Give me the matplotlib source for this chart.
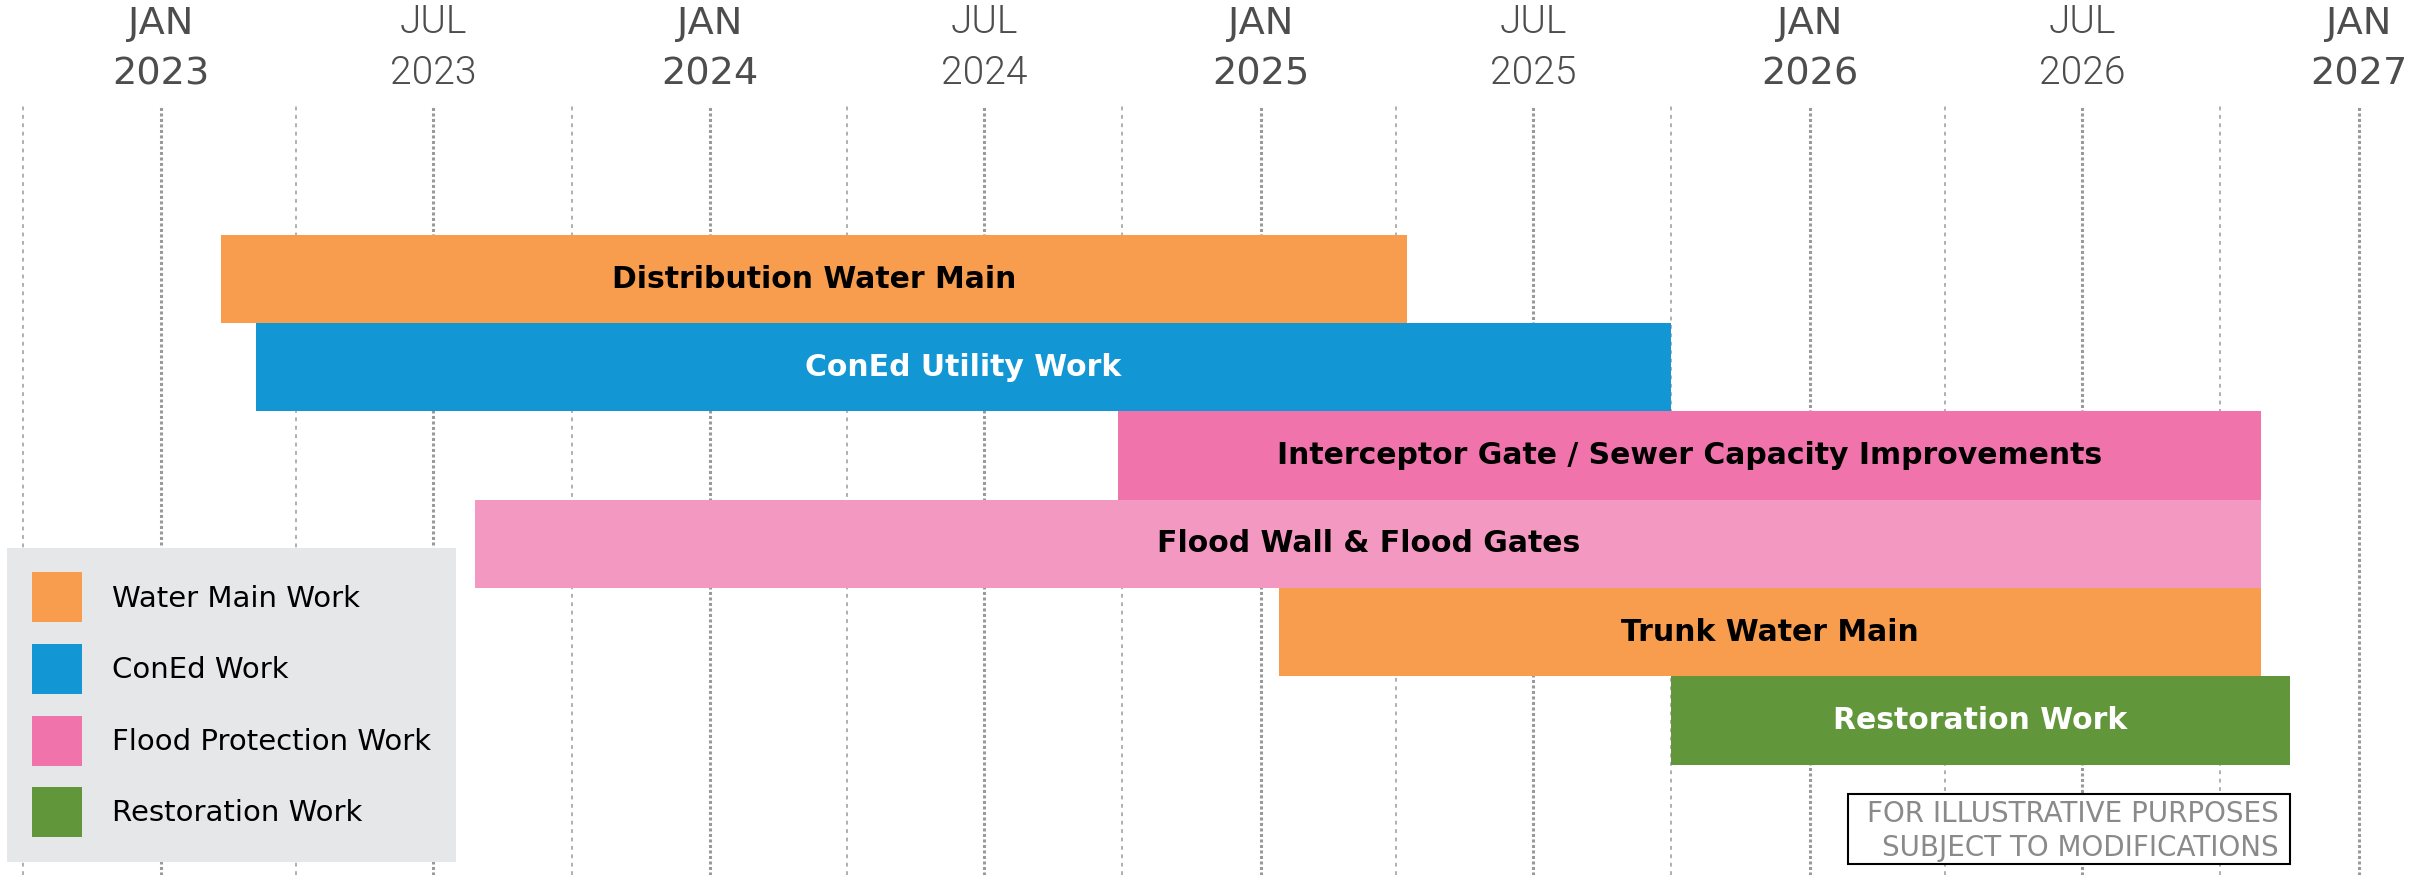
import numpy as np
import matplotlib
matplotlib.use("Agg")
import matplotlib.pyplot as plt
import matplotlib.dates as mdates
from matplotlib.patches import Patch, Rectangle
from matplotlib import font_manager

# Proje takvimi verileri
tasks = ["Distribution Water Main", "ConEd Utility Work",
         "Interceptor Gate / Sewer Capacity Improvements", "Flood Wall & Flood Gates",
         "Trunk Water Main", "Restoration Work"]
start_dates = ["2023-02-10", "2023-03-05", "2024-09-28", "2023-07-29", "2025-01-13", "2025-10-01"]
end_dates = ["2025-04-08", "2025-10-01", "2026-10-28", "2026-10-28", "2026-10-28", "2026-11-16"]

legend_labels = ["Water Main Work", "ConEd Work", "Flood Protection Work", "Restoration Work"]
note_lines = ["FOR ILLUSTRATIVE PURPOSES", "SUBJECT TO MODIFICATIONS"]

# Renkler
bar_colors = ["#F89D4D", "#1396D4", "#F173AB", "#F398C1", "#F89D4D", "#62963B"]
text_colors = ["black", "white", "black", "black", "black", "white"]
legend_colors = ["#F89D4D", "#1396D4", "#F173AB", "#62963B"]
grid_color = "#9a9a9a"
tick_color = "#4d4d4d"

names = {f.name for f in font_manager.fontManager.ttflist}
light_family = "Roboto" if "Roboto" in names else "DejaVu Sans"

W, H = 2428, 875
fig = plt.figure(figsize=(W / 100, H / 100), dpi=100)
ax = fig.add_axes([0, 0, 1, (H - 106) / H])

starts = mdates.date2num(np.array(start_dates, dtype="datetime64[D]"))
ends = mdates.date2num(np.array(end_dates, dtype="datetime64[D]"))
rows = np.arange(len(tasks))

ax.barh(rows, ends - starts, left=starts, height=1.0, color=bar_colors, zorder=3)
for r, s, e, t, c in zip(rows, starts, ends, tasks, text_colors):
    ax.text((s + e) / 2, r, t, ha="center", va="center", fontsize=21.5,
            fontweight="bold", color=c, zorder=4)

x0 = mdates.date2num(np.datetime64("2022-09-16"))
x1 = mdates.date2num(np.datetime64("2027-02-16"))
ax.set_xlim(x0, x1)
ax.set_ylim(6.75, -1.96)

# Izgara çizgileri
major_months = np.arange("2023-01", "2027-02", 6, dtype="datetime64[M]")
major = mdates.date2num(major_months.astype("datetime64[D]"))
labels = [mdates.num2date(m).strftime("%b\n%Y").upper() for m in major]
ax.set_xticks(major, labels)
ax.xaxis.set_minor_locator(mdates.MonthLocator(bymonth=[4, 10]))
ax.grid(which="major", axis="x", color=grid_color, lw=2.2, linestyle=(0, (1, 0.8)))
ax.grid(which="minor", axis="x", color=grid_color, lw=1.1, linestyle=(0, (2.5, 3)))
ax.set_axisbelow(True)

ax.xaxis.tick_top()
ax.tick_params(axis="x", which="both", length=0, pad=10)
ax.tick_params(axis="y", left=False, labelleft=False)
for sp in ax.spines.values():
    sp.set_visible(False)

for lab in ax.get_xticklabels():
    lab.set_color(tick_color)
    if lab.get_text().startswith("JAN"):
        lab.set_linespacing(1.52)
        lab.set_fontfamily("DejaVu Sans")
        lab.set_fontsize(27.5)
    else:
        lab.set_linespacing(1.45)
        lab.set_fontfamily(light_family)
        lab.set_fontweight(300)
        lab.set_fontsize(28)

# Açıklama kutusu
handles = [Patch(facecolor=c, edgecolor="none") for c in legend_colors]
fig.legend(handles, legend_labels, loc="lower left",
           bbox_to_anchor=(7.3 / W, 13 / H), bbox_transform=fig.transFigure,
           borderaxespad=0, frameon=True, fancybox=False, facecolor="#E6E7E8",
           edgecolor="none", framealpha=1, fontsize=21, handlelength=1.71,
           handleheight=2.26, labelspacing=0.74, handletextpad=1.04, borderpad=0.85)

# Not kutusu
fig.add_artist(Rectangle((1848 / W, (H - 864) / H), (2290 - 1848) / W, 70 / H,
                         transform=fig.transFigure, facecolor="white",
                         edgecolor="black", lw=1.5, zorder=5))
for line, yb in zip(note_lines, [821.7, 855.7]):
    fig.text(2279 / W, (H - yb) / H, line, ha="right", va="baseline",
             fontsize=20, color="#8a8a8a", zorder=6)

fig.savefig("out.png", dpi=100)
